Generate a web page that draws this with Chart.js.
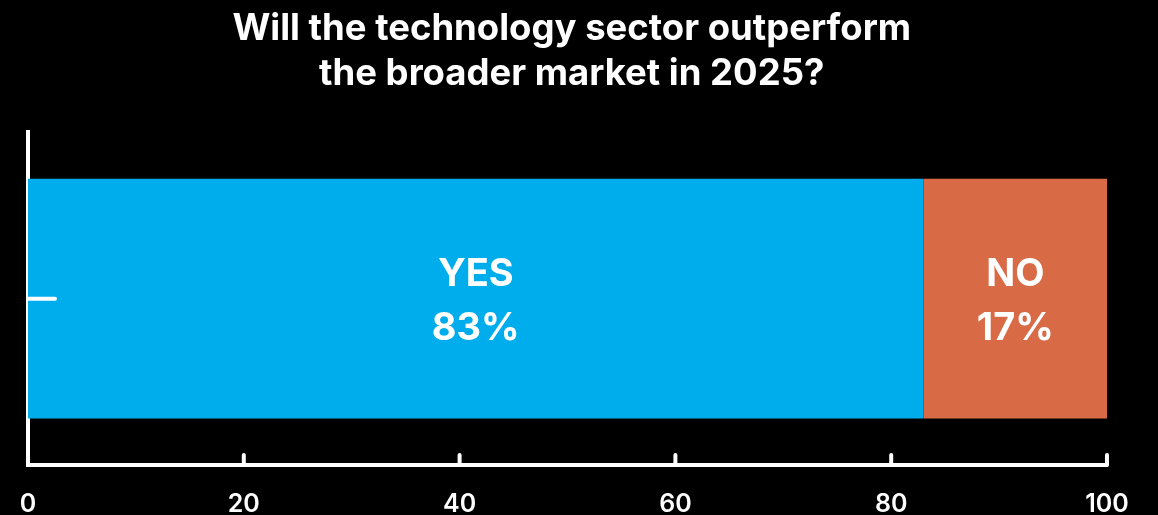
<!DOCTYPE html>
<html>
<head>
<meta charset="utf-8">
<script src="https://cdn.jsdelivr.net/npm/chart.js@4.4.1/dist/chart.umd.min.js"></script>
<style>
  html, body { margin: 0; padding: 0; background: #000; }
  #wrap { width: 1158px; height: 515px; }
</style>
</head>
<body>
<div id="wrap"><canvas id="myChart" width="1158" height="515"></canvas></div>
<script>
// survey answers
var categories = [''];
var answerNames = ['YES', 'NO'];
var answerValues = [83, 17];
var answerColors = ['#00ADEC', '#D96A46'];
var xTicks = [0, 20, 40, 60, 80, 100];
var chartTitle = ['Will the technology sector outperform', 'the broader market in 2025?'];

var FONT = "Inter, 'Noto Sans', sans-serif";

// short tick marks drawn inward from both axis lines
var inwardTicks = {
  id: 'inwardTicks',
  afterDraw: function (chart) {
    var ctx = chart.ctx;
    var area = chart.chartArea;
    var x = chart.scales.x, y = chart.scales.y;
    ctx.save();
    ctx.strokeStyle = '#fff';
    ctx.lineWidth = 4;
    ctx.lineCap = 'round';
    x.ticks.forEach(function (t) {
      var px = x.getPixelForValue(t.value);
      ctx.beginPath();
      ctx.moveTo(px, area.bottom);
      ctx.lineTo(px, area.bottom - 10);
      ctx.stroke();
    });
    categories.forEach(function (c, i) {
      var py = y.getPixelForValue(i);
      ctx.beginPath();
      ctx.moveTo(area.left, py);
      ctx.lineTo(area.left + 27, py);
      ctx.stroke();
    });
    ctx.restore();
  }
};

// answer name and percentage in the middle of each segment
var barLabels = {
  id: 'barLabels',
  afterDatasetsDraw: function (chart) {
    var ctx = chart.ctx;
    ctx.save();
    ctx.fillStyle = '#fff';
    ctx.textAlign = 'center';
    ctx.textBaseline = 'middle';
    ctx.font = "700 38px " + FONT;
    chart.data.datasets.forEach(function (ds, i) {
      chart.getDatasetMeta(i).data.forEach(function (bar, j) {
        var cx = (bar.x + bar.base) / 2;
        ctx.fillText(ds.label, cx, bar.y - 24);
        ctx.fillText(ds.data[j] + '%', cx, bar.y + 30);
      });
    });
    ctx.restore();
  }
};

var datasets = answerNames.map(function (name, i) {
  return {
    label: name,
    data: [answerValues[i]],
    backgroundColor: answerColors[i],
    borderWidth: 0,
    categoryPercentage: 0.72,
    barPercentage: 1
  };
});

var ctx = document.getElementById('myChart').getContext('2d');
var myChart = new Chart(ctx, {
  type: 'bar',
  data: { labels: categories, datasets: datasets },
  plugins: [inwardTicks, barLabels],
  options: {
    indexAxis: 'y',
    responsive: false,
    animation: false,
    layout: { padding: { left: 0, right: 14.5, top: 0, bottom: 0 } },
    plugins: {
      legend: { display: false },
      tooltip: { enabled: false },
      title: {
        display: true,
        text: chartTitle,
        color: '#fff',
        font: { family: FONT, size: 36.5, weight: '700', lineHeight: 1.25 },
        padding: { top: 6, bottom: 35 }
      }
    },
    scales: {
      x: {
        stacked: true,
        min: 0,
        max: 100,
        afterBuildTicks: function (scale) {
          scale.ticks = xTicks.map(function (v) { return { value: v }; });
        },
        afterFit: function (scale) {
          scale.height = 50;
          scale.paddingRight = 51; // keep the plot clear of the right edge
        },
        // tick marks themselves are drawn by inwardTicks; tickLength only spaces the labels
        grid: { display: false, drawTicks: true, tickLength: 24 },
        border: { display: true, color: '#fff', width: 4 },
        ticks: {
          color: '#fff',
          padding: 0,
          maxRotation: 0,
          font: { family: FONT, size: 25, weight: '600' }
        }
      },
      y: {
        stacked: true,
        afterFit: function (scale) { scale.width = 28; },
        grid: { display: false, drawTicks: false },
        border: { display: true, color: '#fff', width: 4 },
        ticks: { display: false }
      }
    }
  }
});
</script>
</body>
</html>
